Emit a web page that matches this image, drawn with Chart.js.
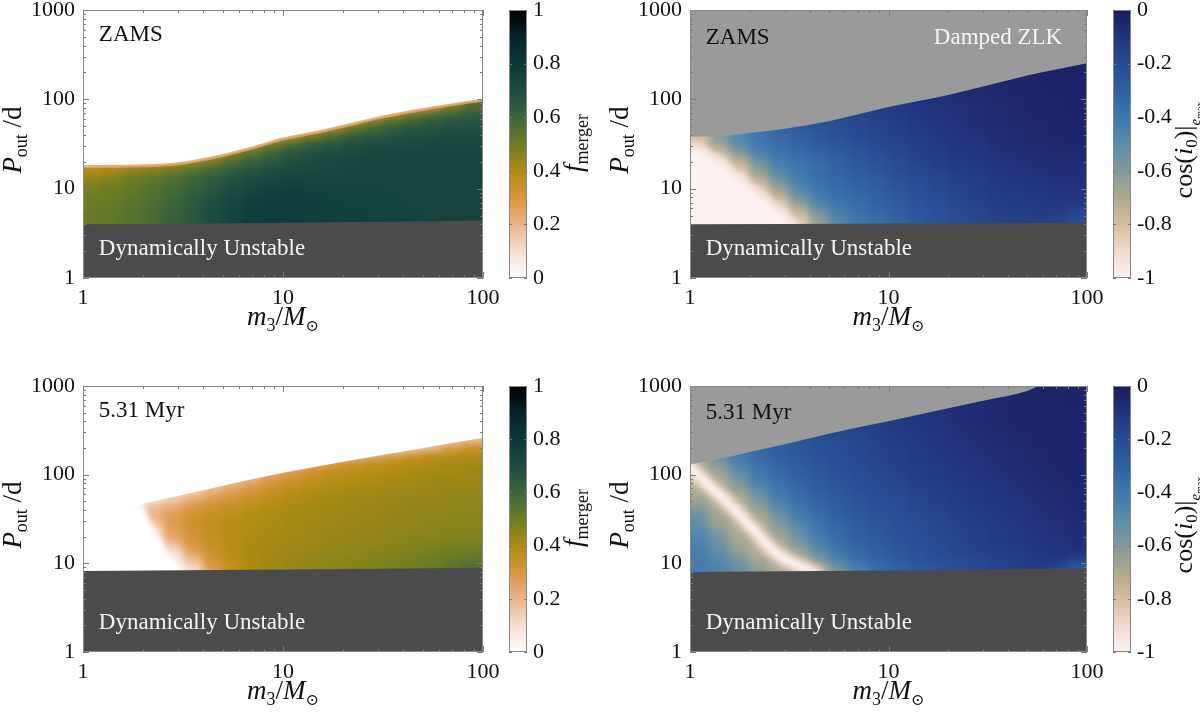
<!DOCTYPE html>
<html><head><meta charset="utf-8">
<script src="https://cdn.jsdelivr.net/npm/chart.js@4.4.1/dist/chart.umd.min.js"></script>
<style>
html,body{margin:0;padding:0;background:#fff;width:1200px;height:715px;overflow:hidden}
.box{position:absolute}
</style></head><body>
<div class="box" style="left:0;top:0;width:600px;height:350px"><canvas id="cA"></canvas></div>
<div class="box" style="left:600px;top:0;width:600px;height:350px"><canvas id="cB"></canvas></div>
<div class="box" style="left:0;top:350px;width:600px;height:365px"><canvas id="cC"></canvas></div>
<div class="box" style="left:600px;top:350px;width:600px;height:365px"><canvas id="cD"></canvas></div>
<script>
// ---------------- DATA ----------------
const xTickVals = [1,2,3,4,5,6,7,8,9,10,20,30,40,50,60,70,80,90,100];
const xTickLabels = [1,10,100];
const yTickVals = [1,2,3,4,5,6,7,8,9,10,20,30,40,50,60,70,80,90,100,200,300,400,500,600,700,800,900,1000];
const yTickLabels = [1,10,100,1000];
const mergerTicks = [0,0.2,0.4,0.6,0.8,1];
const cosTicks = [-1,-0.8,-0.6,-0.4,-0.2,0];

// grid column centres (m3 / Msun), shared by all panels
const massCentres = [1.12,1.41,1.78,2.24,2.82,3.55,4.47,5.62,7.08,8.91,11.2,14.1,17.8,22.4,28.2,35.5,44.7,56.2,70.8,89.1];

// Panel A: ZAMS f_merger (rows bottom -> top)
const zamsPeriods = [4.47,5.62,7.08,8.91,11.2,14.1,17.8,22.4,28.2,35.5,44.7,56.2,70.8,89.1];
const zamsMerger = [
 [0.52,0.53,0.55,0.58,0.62,0.66,0.71,0.75,0.78,0.79,0.79,0.78,0.77,0.77,0.76,0.76,0.76,0.75,0.75,0.75],
 [0.52,0.53,0.55,0.58,0.62,0.66,0.71,0.75,0.78,0.79,0.79,0.78,0.77,0.77,0.76,0.76,0.76,0.75,0.75,0.75],
 [0.51,0.52,0.54,0.57,0.61,0.65,0.70,0.74,0.77,0.78,0.78,0.78,0.77,0.76,0.76,0.76,0.75,0.75,0.75,0.75],
 [0.50,0.51,0.53,0.56,0.60,0.64,0.68,0.72,0.75,0.77,0.78,0.77,0.76,0.76,0.76,0.75,0.75,0.75,0.75,0.75],
 [0.48,0.50,0.52,0.55,0.58,0.62,0.66,0.70,0.73,0.75,0.76,0.76,0.75,0.75,0.75,0.75,0.75,0.75,0.75,0.75],
 [0.44,0.46,0.50,0.53,0.56,0.60,0.63,0.67,0.70,0.72,0.73,0.74,0.74,0.74,0.74,0.74,0.74,0.74,0.74,0.74],
 [0.38,0.40,0.42,0.45,0.48,0.52,0.57,0.62,0.66,0.69,0.71,0.72,0.73,0.74,0.74,0.74,0.74,0.74,0.74,0.74],
 [0.30,0.30,0.30,0.30,0.30,0.38,0.45,0.55,0.60,0.64,0.68,0.70,0.72,0.73,0.74,0.74,0.74,0.74,0.74,0.74],
 [0.30,0.30,0.30,0.30,0.30,0.30,0.30,0.40,0.50,0.58,0.64,0.67,0.69,0.71,0.72,0.73,0.73,0.73,0.73,0.73],
 [0.30,0.30,0.30,0.30,0.30,0.30,0.30,0.30,0.30,0.42,0.52,0.60,0.64,0.67,0.69,0.70,0.71,0.72,0.72,0.72],
 [0.30,0.30,0.30,0.30,0.30,0.30,0.30,0.30,0.30,0.30,0.30,0.42,0.52,0.60,0.64,0.66,0.68,0.69,0.70,0.70],
 [0.30,0.30,0.30,0.30,0.30,0.30,0.30,0.30,0.30,0.30,0.30,0.30,0.30,0.42,0.52,0.60,0.64,0.66,0.67,0.68],
 [0.30,0.30,0.30,0.30,0.30,0.30,0.30,0.30,0.30,0.30,0.30,0.30,0.30,0.30,0.30,0.42,0.50,0.58,0.62,0.64],
 [0.30,0.30,0.30,0.30,0.30,0.30,0.30,0.30,0.30,0.30,0.30,0.30,0.30,0.30,0.30,0.30,0.30,0.30,0.45,0.55]
];
const zamsUnstableM = [1,3,10,30,100];
const zamsUnstableP = [4.0,4.05,4.15,4.25,4.4];
const zamsEdgeM = [1,1.5,2,3,5,7,10,15,20,30,50,70,100];
const zamsEdgeP = [17.6,17.8,18,19,23.5,28.5,36,43,50,62,77,87,98];

// Panel B: ZAMS cos(i0)|emax
const zlkZamsPeriods = [4.47,5.62,7.08,8.91,11.2,14.1,17.8,22.4,28.2,35.5,44.7,56.2,70.8,89.1,112,141,178,224,282];
const zlkZamsCos = [
 [-1,-1,-1,-1,-1,-0.85,-0.65,-0.47,-0.4,-0.35,-0.31,-0.26,-0.23,-0.2,-0.18,-0.16,-0.15,-0.14,-0.16,-0.22],
 [-1,-1,-1,-1,-0.95,-0.76,-0.57,-0.43,-0.37,-0.33,-0.29,-0.25,-0.22,-0.19,-0.17,-0.15,-0.14,-0.13,-0.13,-0.17],
 [-1,-1,-1,-1,-0.83,-0.63,-0.46,-0.39,-0.35,-0.31,-0.27,-0.24,-0.21,-0.18,-0.16,-0.14,-0.13,-0.12,-0.12,-0.12],
 [-1,-1,-1,-0.92,-0.72,-0.53,-0.41,-0.36,-0.33,-0.3,-0.26,-0.22,-0.19,-0.17,-0.15,-0.13,-0.12,-0.11,-0.1,-0.1],
 [-1,-1,-1,-0.81,-0.61,-0.45,-0.38,-0.34,-0.31,-0.28,-0.24,-0.21,-0.18,-0.16,-0.14,-0.12,-0.11,-0.1,-0.09,-0.09],
 [-1,-1,-0.9,-0.7,-0.51,-0.41,-0.36,-0.32,-0.29,-0.26,-0.22,-0.19,-0.17,-0.15,-0.13,-0.11,-0.1,-0.09,-0.08,-0.08],
 [-1,-1,-0.8,-0.6,-0.45,-0.39,-0.35,-0.31,-0.27,-0.24,-0.2,-0.18,-0.15,-0.13,-0.12,-0.1,-0.09,-0.08,-0.07,-0.07],
 [-1,-0.9,-0.7,-0.51,-0.41,-0.37,-0.33,-0.29,-0.25,-0.22,-0.19,-0.16,-0.14,-0.12,-0.11,-0.09,-0.08,-0.07,-0.06,-0.06],
 [-0.93,-0.73,-0.54,-0.42,-0.37,-0.33,-0.3,-0.26,-0.23,-0.2,-0.17,-0.15,-0.13,-0.11,-0.1,-0.08,-0.07,-0.06,-0.05,-0.05],
 [-0.8,-0.62,-0.48,-0.4,-0.35,-0.31,-0.27,-0.24,-0.21,-0.18,-0.16,-0.14,-0.12,-0.1,-0.09,-0.07,-0.06,-0.05,-0.05,-0.04],
 [-0.8,-0.62,-0.48,-0.39,-0.33,-0.28,-0.25,-0.22,-0.19,-0.17,-0.15,-0.13,-0.11,-0.09,-0.08,-0.07,-0.06,-0.05,-0.04,-0.04],
 [-0.75,-0.58,-0.45,-0.37,-0.31,-0.26,-0.23,-0.2,-0.18,-0.16,-0.14,-0.12,-0.1,-0.09,-0.07,-0.06,-0.05,-0.05,-0.04,-0.04],
 [-0.7,-0.55,-0.42,-0.34,-0.28,-0.24,-0.21,-0.19,-0.17,-0.15,-0.13,-0.11,-0.09,-0.08,-0.07,-0.06,-0.05,-0.04,-0.04,-0.03],
 [-0.6,-0.45,-0.36,-0.3,-0.25,-0.21,-0.19,-0.17,-0.15,-0.13,-0.12,-0.1,-0.09,-0.08,-0.07,-0.06,-0.05,-0.04,-0.035,-0.03],
 [-0.55,-0.42,-0.33,-0.27,-0.23,-0.2,-0.17,-0.15,-0.13,-0.12,-0.1,-0.09,-0.08,-0.07,-0.06,-0.05,-0.045,-0.04,-0.035,-0.03],
 [-0.5,-0.38,-0.3,-0.25,-0.21,-0.18,-0.16,-0.14,-0.12,-0.11,-0.09,-0.08,-0.07,-0.06,-0.055,-0.05,-0.04,-0.035,-0.03,-0.03],
 [-0.45,-0.35,-0.28,-0.23,-0.19,-0.16,-0.14,-0.12,-0.11,-0.1,-0.08,-0.07,-0.06,-0.055,-0.05,-0.045,-0.04,-0.035,-0.03,-0.03],
 [-0.4,-0.32,-0.26,-0.21,-0.17,-0.15,-0.13,-0.11,-0.1,-0.09,-0.08,-0.07,-0.06,-0.05,-0.045,-0.04,-0.035,-0.03,-0.03,-0.025],
 [-0.38,-0.3,-0.24,-0.19,-0.16,-0.14,-0.12,-0.1,-0.09,-0.08,-0.07,-0.06,-0.055,-0.05,-0.04,-0.035,-0.03,-0.03,-0.025,-0.025]
];
const zlkZamsUnstableM = [1,10,100];
const zlkZamsUnstableP = [4.0,4.08,4.16];
const zlkZamsDampedM = [1,1.5,2,3,5,10,20,30,50,100];
const zlkZamsDampedP = [38,39,42,47,57,82,112,139,185,253];
// contour of the cos(i0) = -1 (white) zone
const zlkZamsCoreM = [1,1.2,1.4,1.7,2.0,2.4,2.8,3.2,3.6];
const zlkZamsCoreP = [31,26,21,15,11,8,6,4.6,3.6];

// Panel C: 5.31 Myr f_merger
const lateMergerPeriods = [8.91,11.2,14.1,17.8,22.4,28.2,35.5,44.7,56.2,70.8,89.1,112,141,178,224,282];
const lateMerger = [
 [0,0,0,0,0.02,0.10,0.28,0.37,0.41,0.43,0.44,0.45,0.46,0.47,0.48,0.49,0.50,0.52,0.55,0.58],
 [0,0,0,0,0.05,0.18,0.32,0.38,0.41,0.43,0.44,0.45,0.46,0.46,0.47,0.48,0.49,0.50,0.52,0.54],
 [0,0,0,0.01,0.10,0.27,0.35,0.39,0.41,0.42,0.43,0.44,0.45,0.45,0.46,0.47,0.48,0.49,0.50,0.50],
 [0,0,0,0.03,0.20,0.31,0.36,0.39,0.41,0.42,0.43,0.43,0.44,0.45,0.45,0.46,0.47,0.47,0.48,0.48],
 [0,0,0,0.08,0.26,0.33,0.37,0.39,0.40,0.41,0.42,0.43,0.44,0.44,0.45,0.45,0.46,0.46,0.47,0.47],
 [0,0,0,0.15,0.28,0.34,0.37,0.39,0.40,0.41,0.42,0.43,0.43,0.44,0.44,0.45,0.45,0.46,0.46,0.46],
 [0,0,0.02,0.22,0.28,0.33,0.36,0.38,0.40,0.41,0.42,0.42,0.43,0.44,0.44,0.45,0.45,0.45,0.46,0.46],
 [0,0,0.03,0.18,0.24,0.30,0.34,0.36,0.38,0.40,0.41,0.42,0.43,0.43,0.44,0.44,0.45,0.45,0.45,0.45],
 [0,0,0,0.08,0.15,0.22,0.28,0.32,0.35,0.38,0.40,0.41,0.42,0.43,0.43,0.44,0.44,0.44,0.45,0.45],
 [0,0,0,0,0.05,0.12,0.20,0.26,0.31,0.35,0.38,0.40,0.41,0.42,0.42,0.43,0.43,0.44,0.44,0.44],
 [0,0,0,0,0,0.04,0.10,0.18,0.24,0.30,0.34,0.37,0.39,0.40,0.41,0.42,0.42,0.43,0.43,0.43],
 [0,0,0,0,0,0,0.03,0.08,0.15,0.22,0.28,0.33,0.36,0.38,0.39,0.40,0.41,0.42,0.42,0.43],
 [0,0,0,0,0,0,0,0,0.04,0.10,0.17,0.24,0.30,0.34,0.37,0.39,0.40,0.41,0.42,0.42],
 [0,0,0,0,0,0,0,0,0,0,0,0,0,0.10,0.18,0.26,0.32,0.36,0.38,0.40],
 [0,0,0,0,0,0,0,0,0,0,0,0,0,0,0,0,0.08,0.16,0.26,0.32],
 [0,0,0,0,0,0,0,0,0,0,0,0,0,0,0,0,0,0,0.05,0.12]
];
const lateUnstableM = [1,10,100];
const lateUnstableP = [8.2,8.5,8.9];
const lateEdgeM = [1,1.9,2,3,5,10,20,50,100];
const lateEdgeP = [45,45,47,58,75,105,140,200,260];
// outer limit of the non-zero region on the low-mass side
const lateVoidM = [1,1.95,2.05,2.2,2.35,2.55,2.8,3.05,3.2];
const lateVoidP = [45,45,38,28,20,15,11,8.5,7.5];

// Panel D: 5.31 Myr cos(i0)|emax (cell averages)
const zlkLatePeriods = [8.91,11.2,14.1,17.8,22.4,28.2,35.5,44.7,56.2,70.8,89.1,112,141,178,224,282,355,447,562,708,891];
const zlkLateCos = [
 [-0.42,-0.45,-0.52,-0.62,-0.72,-0.75,-0.72,-0.57,-0.44,-0.36,-0.31,-0.27,-0.24,-0.21,-0.19,-0.17,-0.15,-0.13,-0.2,-0.3],
 [-0.42,-0.47,-0.56,-0.68,-0.75,-0.72,-0.58,-0.45,-0.37,-0.31,-0.27,-0.24,-0.22,-0.2,-0.18,-0.16,-0.14,-0.12,-0.11,-0.17],
 [-0.43,-0.5,-0.64,-0.75,-0.75,-0.66,-0.5,-0.4,-0.33,-0.29,-0.25,-0.23,-0.2,-0.18,-0.16,-0.14,-0.125,-0.11,-0.095,-0.08],
 [-0.45,-0.54,-0.68,-0.75,-0.72,-0.57,-0.44,-0.36,-0.31,-0.27,-0.24,-0.21,-0.19,-0.17,-0.15,-0.13,-0.12,-0.1,-0.09,-0.075],
 [-0.47,-0.58,-0.72,-0.75,-0.66,-0.52,-0.41,-0.34,-0.29,-0.26,-0.23,-0.21,-0.18,-0.17,-0.15,-0.13,-0.11,-0.1,-0.08,-0.07],
 [-0.5,-0.66,-0.75,-0.74,-0.6,-0.47,-0.38,-0.32,-0.28,-0.25,-0.22,-0.2,-0.18,-0.16,-0.14,-0.12,-0.11,-0.09,-0.08,-0.065],
 [-0.53,-0.68,-0.75,-0.7,-0.54,-0.42,-0.35,-0.3,-0.26,-0.235,-0.21,-0.19,-0.17,-0.15,-0.13,-0.115,-0.1,-0.085,-0.07,-0.06],
 [-0.6,-0.74,-0.75,-0.63,-0.48,-0.39,-0.33,-0.28,-0.25,-0.22,-0.2,-0.18,-0.16,-0.14,-0.125,-0.11,-0.095,-0.08,-0.065,-0.055],
 [-0.68,-0.75,-0.72,-0.56,-0.43,-0.36,-0.31,-0.27,-0.24,-0.21,-0.19,-0.17,-0.15,-0.13,-0.115,-0.1,-0.09,-0.075,-0.06,-0.05],
 [-0.74,-0.75,-0.64,-0.49,-0.39,-0.33,-0.28,-0.25,-0.22,-0.2,-0.18,-0.16,-0.14,-0.125,-0.11,-0.095,-0.08,-0.065,-0.055,-0.048],
 [-0.75,-0.72,-0.56,-0.43,-0.36,-0.31,-0.27,-0.24,-0.21,-0.19,-0.17,-0.15,-0.13,-0.115,-0.1,-0.09,-0.075,-0.06,-0.05,-0.045],
 [-0.75,-0.66,-0.5,-0.4,-0.33,-0.29,-0.25,-0.225,-0.2,-0.18,-0.16,-0.14,-0.125,-0.11,-0.095,-0.08,-0.065,-0.055,-0.048,-0.042],
 [-0.72,-0.57,-0.44,-0.36,-0.31,-0.27,-0.24,-0.21,-0.19,-0.17,-0.15,-0.13,-0.12,-0.1,-0.09,-0.075,-0.06,-0.05,-0.045,-0.04],
 [-0.7,-0.52,-0.41,-0.34,-0.29,-0.26,-0.23,-0.205,-0.185,-0.165,-0.145,-0.125,-0.11,-0.1,-0.085,-0.07,-0.058,-0.05,-0.044,-0.04],
 [-0.6,-0.47,-0.38,-0.32,-0.28,-0.25,-0.22,-0.2,-0.18,-0.16,-0.14,-0.12,-0.105,-0.09,-0.08,-0.065,-0.055,-0.048,-0.042,-0.038],
 [-0.54,-0.42,-0.35,-0.3,-0.26,-0.235,-0.21,-0.19,-0.17,-0.15,-0.13,-0.115,-0.1,-0.085,-0.07,-0.06,-0.05,-0.045,-0.04,-0.037],
 [-0.49,-0.39,-0.33,-0.29,-0.25,-0.225,-0.2,-0.18,-0.16,-0.14,-0.125,-0.11,-0.095,-0.08,-0.065,-0.055,-0.048,-0.043,-0.039,-0.036],
 [-0.44,-0.36,-0.31,-0.27,-0.24,-0.21,-0.19,-0.17,-0.15,-0.13,-0.12,-0.1,-0.09,-0.075,-0.06,-0.05,-0.045,-0.04,-0.037,-0.035],
 [-0.41,-0.34,-0.29,-0.26,-0.23,-0.205,-0.185,-0.165,-0.145,-0.125,-0.11,-0.1,-0.085,-0.07,-0.058,-0.05,-0.044,-0.04,-0.036,-0.034],
 [-0.38,-0.32,-0.28,-0.25,-0.22,-0.2,-0.18,-0.16,-0.14,-0.12,-0.105,-0.09,-0.08,-0.065,-0.055,-0.048,-0.042,-0.038,-0.035,-0.033],
 [-0.35,-0.3,-0.26,-0.235,-0.21,-0.19,-0.17,-0.15,-0.13,-0.115,-0.1,-0.085,-0.07,-0.06,-0.05,-0.045,-0.04,-0.037,-0.034,-0.032]
];
const zlkLateUnstableM = [1,10,100];
const zlkLateUnstableP = [8.0,8.3,8.8];
const zlkLateDampedM = [1,1.5,2,3,5,10,20,30,50,58.5,100];
const zlkLateDampedP = [130,155,180,220,290,400,560,680,880,1000,1000];
// ridge line where cos(i0) = -1
const zlkLateBandM = [0.97,1.03,1.15,1.28,1.45,1.6,1.78,1.95,2.15,2.35,2.6,3.0,3.7,4.3];
const zlkLateBandP = [130,112,89,71,56,45,35.5,28,22.4,17.8,14.1,11.2,8.9,7.6];

// ---------------- STYLE ----------------
const FONT = "'Liberation Serif', 'DejaVu Serif', serif";
const mergerStops = [[0,'#ffffff'],[0.1,'#f6e1d4'],[0.2,'#ebb48c'],[0.3,'#dc9540'],[0.4,'#b38c12'],[0.5,'#6f7e22'],[0.6,'#3f663a'],[0.7,'#1d4d41'],[0.8,'#0b3a39'],[0.9,'#07232d'],[1,'#000000']];
const cosStops = [[-1,'#fdf2f2'],[-0.9,'#f0dccf'],[-0.8,'#d8bea2'],[-0.7,'#b0a98c'],[-0.6,'#83999a'],[-0.5,'#5d8daa'],[-0.4,'#3f78ae'],[-0.3,'#2f61a2'],[-0.2,'#284c93'],[-0.1,'#22347f'],[0,'#1b1b5c']];

function hexRgb(h){return [parseInt(h.slice(1,3),16),parseInt(h.slice(3,5),16),parseInt(h.slice(5,7),16)];}
function makeCmap(stops){
  const s = stops.map(([v,h])=>[v,hexRgb(h)]);
  return v => {
    if (v <= s[0][0]) return 'rgb('+s[0][1].join(',')+')';
    for (let k=1;k<s.length;k++){
      if (v <= s[k][0]) {
        const t = (v - s[k-1][0])/(s[k][0]-s[k-1][0]);
        const c = s[k-1][1].map((a,i)=>Math.round(a+(s[k][1][i]-a)*t));
        return 'rgb('+c.join(',')+')';
      }
    }
    return 'rgb('+s[s.length-1][1].join(',')+')';
  };
}
const mergerMap = makeCmap(mergerStops);
const cosMap = makeCmap(cosStops);

function cellEdges(c){
  const e=[c[0]/Math.pow(c[1]/c[0],2.5)];
  for(let k=1;k<c.length;k++) e.push(Math.sqrt(c[k-1]*c[k]));
  const n=c.length; e.push(c[n-1]*Math.pow(c[n-1]/c[n-2],2.5));
  return e;
}

function drawRich(ctx, segs, x, y, rotate){
  ctx.save();
  ctx.translate(x,y);
  if (rotate) ctx.rotate(-Math.PI/2);
  const fonts = segs.map(s => (s.i?'italic ':'')+s.s+'px '+FONT);
  let total=0; const w=[];
  segs.forEach((s,k)=>{ctx.font=fonts[k]; const ww=ctx.measureText(s.t).width; w.push(ww); total+=ww;});
  let cx=-total/2;
  ctx.fillStyle='#111'; ctx.textBaseline='alphabetic'; ctx.textAlign='left';
  segs.forEach((s,k)=>{ctx.font=fonts[k]; ctx.fillText(s.t,cx,s.dy||0); cx+=w[k];});
  ctx.restore();
}
const yTitleSegs=[{t:'P',s:27,i:1},{t:'out',s:18,dy:6},{t:' /d',s:27}];
const xTitleSegs=[{t:'m',s:27,i:1},{t:'3',s:18,dy:6},{t:'/',s:27},{t:'M',s:27,i:1},{t:'\u2299',s:16,dy:6}];
const fTitleSegs=[{t:'f',s:27,i:1},{t:'merger',s:18,dy:6}];
const cosTitleSegs=[{t:'cos(',s:26},{t:'i',s:26,i:1},{t:'0',s:17,dy:5},{t:')',s:26},{t:'|',s:26},{t:'e',s:15,i:1,dy:8},{t:'max',s:10,dy:11}];

const panels = [
 {id:'cA', grid:zamsMerger, periods:zamsPeriods, cmap:mergerMap, cbMin:0, cbMax:1, cbTicks:mergerTicks, cbSegs:fTitleSegs,
  lowM:zamsUnstableM, lowP:zamsUnstableP, upM:zamsEdgeM, upP:zamsEdgeP, upColor:'#ffffff', upBorder:'rgba(228,162,108,0.85)', upBW:3,
  yW:83, cbW:117, top:10, xH:72, ytx:21, cbtx:99, cbdy:-1, extra:[],
  notes:[{t:'ZAMS',m:1.2,p:525,c:'#111',a:'left'},{t:'Dynamically Unstable',m:1.2,p:2.1,c:'#f4f4f4',a:'left'}]},
 {id:'cB', grid:zlkZamsCos, periods:zlkZamsPeriods, cmap:cosMap, cbMin:-1, cbMax:0, cbTicks:cosTicks, cbSegs:cosTitleSegs,
  lowM:zlkZamsUnstableM, lowP:zlkZamsUnstableP, upM:zlkZamsDampedM, upP:zlkZamsDampedP, upColor:'#9a9a9a', upBorder:'rgba(0,0,0,0)', upBW:0,
  yW:90, cbW:113, top:10, xH:72, ytx:28, cbtx:105, cbdy:6,
  extra:[
    {m:zlkZamsCoreM, p:zlkZamsCoreP, fill:'start', bg:'#fdf2f2', bc:'rgba(240,222,210,0.9)', bw:4}
  ],
  notes:[{t:'ZAMS',m:1.2,p:490,c:'#111',a:'left'},{t:'Damped ZLK',m:75,p:490,c:'#f4f4f4',a:'right'},{t:'Dynamically Unstable',m:1.2,p:2.1,c:'#f4f4f4',a:'left'}]},
 {id:'cC', grid:lateMerger, periods:lateMergerPeriods, cmap:mergerMap, cbMin:0, cbMax:1, cbTicks:mergerTicks, cbSegs:fTitleSegs,
  lowM:lateUnstableM, lowP:lateUnstableP, upM:lateEdgeM, upP:lateEdgeP, upColor:'#ffffff', upBorder:'rgba(0,0,0,0)', upBW:0,
  yW:83, cbW:117, top:36, xH:63, ytx:21, cbtx:99, cbdy:-1,
  extra:[
    {m:lateVoidM, p:lateVoidP, fill:'start', bg:'#ffffff', bc:'rgba(0,0,0,0)', bw:0}
  ],
  notes:[{t:'5.31 Myr',m:1.2,p:525,c:'#111',a:'left'},{t:'Dynamically Unstable',m:1.2,p:2.1,c:'#f4f4f4',a:'left'}]},
 {id:'cD', grid:zlkLateCos, periods:zlkLatePeriods, cmap:cosMap, cbMin:-1, cbMax:0, cbTicks:cosTicks, cbSegs:cosTitleSegs,
  lowM:zlkLateUnstableM, lowP:zlkLateUnstableP, upM:zlkLateDampedM, upP:zlkLateDampedP, upColor:'#9a9a9a', upBorder:'rgba(0,0,0,0)', upBW:0,
  yW:90, cbW:113, top:36, xH:63, ytx:28, cbtx:105, cbdy:6,
  extra:[
    {m:zlkLateBandM, p:zlkLateBandP, fill:false, bc:'rgba(150,165,160,0.35)', bw:32},
    {m:zlkLateBandM, p:zlkLateBandP, fill:false, bc:'rgba(222,198,176,0.85)', bw:18},
    {m:zlkLateBandM, p:zlkLateBandP, fill:false, bc:'#fdf3f1', bw:9}
  ],
  notes:[{t:'5.31 Myr',m:1.2,p:500,c:'#111',a:'left'},{t:'Dynamically Unstable',m:1.2,p:2.1,c:'#f4f4f4',a:'left'}]}
];

Chart.defaults.color = '#111';
Chart.defaults.font.family = FONT;

function buildPanel(cfg){
  const nExtra = cfg.extra.length;
  const heat = {
    id:'heat',
    beforeDatasetsDraw(chart){
      const {ctx, chartArea:ca, scales:{x,y}} = chart;
      const r = chart.currentDevicePixelRatio || 1;
      const off = document.createElement('canvas');
      off.width = chart.canvas.width; off.height = chart.canvas.height;
      const o = off.getContext('2d'); o.setTransform(r,0,0,r,0,0);
      const mE = cellEdges(massCentres), pE = cellEdges(cfg.periods);
      for (let j=0;j<cfg.grid.length;j++){
        const yb = y.getPixelForValue(pE[j]), yt = y.getPixelForValue(pE[j+1]);
        for (let i=0;i<massCentres.length;i++){
          const xl = x.getPixelForValue(mE[i]), xr = x.getPixelForValue(mE[i+1]);
          o.fillStyle = cfg.cmap(cfg.grid[j][i]);
          o.fillRect(Math.floor(xl), Math.floor(yt), Math.ceil(xr)-Math.floor(xl)+1, Math.ceil(yb)-Math.floor(yt)+1);
        }
      }
      ctx.save();
      ctx.beginPath(); ctx.rect(ca.left, ca.top, ca.right-ca.left, ca.bottom-ca.top); ctx.clip();
      ctx.filter = 'blur(5px)';
      ctx.drawImage(off, 0, 0, chart.width, chart.height);
      ctx.restore();
      if (nExtra) { ctx.save(); ctx.filter = 'blur(3px)'; }
    },
    afterDatasetDraw(chart, args){
      if (nExtra && args.index === 2 + nExtra - 1) chart.ctx.restore();
    }
  };
  const deco = {
    id:'deco',
    afterDatasetsDraw(chart){
      const {ctx, chartArea:ca, scales:{x,y,cb}} = chart;
      ctx.save();
      ctx.filter = 'none';
      ctx.font = '23px '+FONT; ctx.textBaseline='middle';
      cfg.notes.forEach(n=>{ctx.fillStyle=n.c; ctx.textAlign=n.a; ctx.fillText(n.t, x.getPixelForValue(n.m), y.getPixelForValue(n.p));});
      ctx.strokeStyle='#7a7a7a'; ctx.lineWidth=1;
      ctx.beginPath();
      xTickVals.forEach(v=>{const px=Math.round(x.getPixelForValue(v))+0.5; const L=xTickLabels.includes(v)?6:3;
        ctx.moveTo(px,ca.bottom); ctx.lineTo(px,ca.bottom-L); ctx.moveTo(px,ca.top); ctx.lineTo(px,ca.top+L);});
      yTickVals.forEach(v=>{const py=Math.round(y.getPixelForValue(v))+0.5; const L=yTickLabels.includes(v)?6:3;
        ctx.moveTo(ca.left,py); ctx.lineTo(ca.left+L,py); ctx.moveTo(ca.right,py); ctx.lineTo(ca.right-L,py);});
      ctx.stroke();
      ctx.strokeStyle='#8a8a8a';
      ctx.strokeRect(ca.left+0.5, ca.top+0.5, ca.right-ca.left-1, ca.bottom-ca.top-1);
      const bx0 = ca.right+26, bx1 = ca.right+44;
      const steps = 240;
      for (let k=0;k<steps;k++){
        const v0 = cfg.cbMin + (cfg.cbMax-cfg.cbMin)*k/steps, v1 = cfg.cbMin + (cfg.cbMax-cfg.cbMin)*(k+1)/steps;
        const ya = cb.getPixelForValue(v0), yb2 = cb.getPixelForValue(v1);
        ctx.fillStyle = cfg.cmap((v0+v1)/2);
        ctx.fillRect(bx0, Math.floor(yb2), bx1-bx0, Math.ceil(ya)-Math.floor(yb2)+1);
      }
      ctx.strokeStyle='#8a8a8a';
      ctx.strokeRect(bx0+0.5, cb.top+0.5, bx1-bx0-1, cb.bottom-cb.top-1);
      ctx.beginPath(); ctx.strokeStyle='#777';
      cfg.cbTicks.forEach(v=>{const py=Math.round(cb.getPixelForValue(v))+0.5; ctx.moveTo(bx0,py); ctx.lineTo(bx0+3,py); ctx.moveTo(bx1,py); ctx.lineTo(bx1-3,py);});
      ctx.stroke();
      ctx.restore();
    },
    afterDraw(chart){
      const {ctx, chartArea:ca} = chart;
      const cy = (ca.top+ca.bottom)/2;
      drawRich(ctx, yTitleSegs, cfg.ytx, cy-4, true);
      drawRich(ctx, xTitleSegs, (ca.left+ca.right)/2, ca.bottom+47, false);
      drawRich(ctx, cfg.cbSegs, ca.right+cfg.cbtx, cy+cfg.cbdy, true);
    }
  };
  const lineBase = {pointRadius:0, pointHoverRadius:0, cubicInterpolationMode:'monotone', xAxisID:'x', yAxisID:'y'};
  const datasets = [
    Object.assign({}, lineBase, {order:0, data: cfg.lowM.map((m,i)=>({x:m,y:cfg.lowP[i]})), fill:'start', backgroundColor:'#4b4b4b', borderColor:'rgba(0,0,0,0)', borderWidth:0}),
    Object.assign({}, lineBase, {order:0, data: cfg.upM.map((m,i)=>({x:m,y:cfg.upP[i]})), fill:'end', backgroundColor:cfg.upColor, borderColor:cfg.upBorder, borderWidth:cfg.upBW})
  ];
  cfg.extra.forEach((e,k)=>{
    datasets.push(Object.assign({}, lineBase, {order: 10-k, data: e.m.map((m,i)=>({x:m,y:e.p[i]})), fill:e.fill, backgroundColor:e.bg||'rgba(0,0,0,0)', borderColor:e.bc, borderWidth:e.bw, borderCapStyle:'round', borderJoinStyle:'round'}));
  });
  const tickFont = {family:FONT, size:22};
  new Chart(document.getElementById(cfg.id), {
    type:'line',
    data:{datasets},
    options:{
      responsive:true, maintainAspectRatio:false, animation:false,
      events:[],
      layout:{padding:{top:cfg.top, left:0, right:0, bottom:0}},
      plugins:{legend:{display:false}, tooltip:{enabled:false}},
      scales:{
        x:{type:'logarithmic', position:'bottom', min:1, max:100,
           afterBuildTicks:s=>{s.ticks = xTickVals.map(v=>({value:v}));},
           ticks:{autoSkip:false, maxRotation:0, minRotation:0, padding:7, font:tickFont, color:'#111',
                  callback:v=>xTickLabels.includes(v)?String(v):''},
           grid:{display:false, drawTicks:false}, border:{display:false},
           afterFit:s=>{s.height=cfg.xH; s.paddingLeft=0; s.paddingRight=0;}},
        y:{type:'logarithmic', position:'left', min:1, max:1000,
           afterBuildTicks:s=>{s.ticks = yTickVals.map(v=>({value:v}));},
           ticks:{autoSkip:false, padding:8, font:tickFont, color:'#111',
                  callback:v=>yTickLabels.includes(v)?String(v):''},
           grid:{display:false, drawTicks:false}, border:{display:false},
           afterFit:s=>{s.width=cfg.yW; s.paddingTop=0; s.paddingBottom=0;}},
        cb:{type:'linear', position:'right', min:cfg.cbMin, max:cfg.cbMax,
           afterBuildTicks:s=>{s.ticks = cfg.cbTicks.map(v=>({value:v}));},
           ticks:{autoSkip:false, padding:50, font:tickFont, color:'#111',
                  callback:v=>String(Math.round(v*10)/10)},
           grid:{display:false, drawTicks:false}, border:{display:false},
           afterFit:s=>{s.width=cfg.cbW; s.paddingTop=0; s.paddingBottom=0;}}
      }
    },
    plugins:[heat, deco]
  });
}
panels.forEach(buildPanel);
</script>
</body></html>
